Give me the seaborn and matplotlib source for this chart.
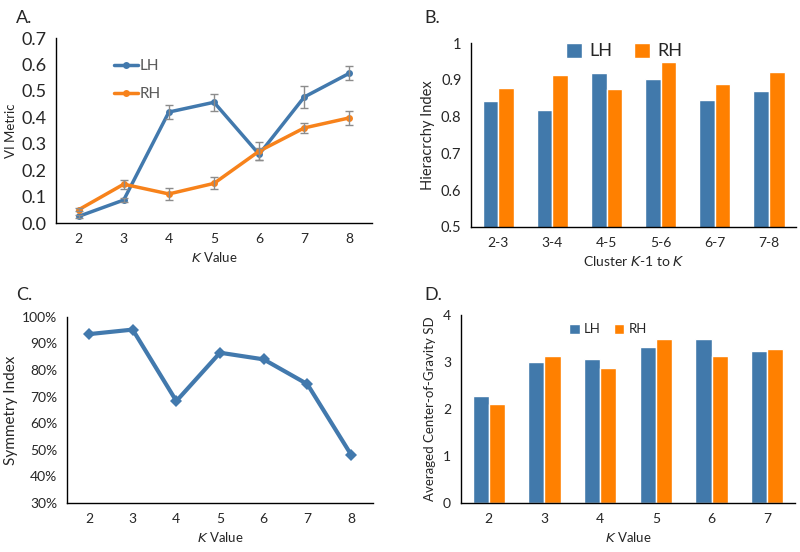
import numpy as np
import pandas as pd
import matplotlib
matplotlib.use("Agg")
import matplotlib.pyplot as plt
import seaborn as sns
from matplotlib.ticker import PercentFormatter

# ---- data ----
k_values = ["2", "3", "4", "5", "6", "7", "8"]
vi_lh = [0.025, 0.087, 0.420, 0.457, 0.260, 0.477, 0.567]
vi_lh_err = [0.006, 0.008, 0.028, 0.032, 0.023, 0.042, 0.027]
vi_rh = [0.050, 0.147, 0.110, 0.150, 0.272, 0.360, 0.398]
vi_rh_err = [0.005, 0.017, 0.023, 0.023, 0.035, 0.018, 0.026]

pairs = ["2-3", "3-4", "4-5", "5-6", "6-7", "7-8"]
hier_lh = [0.842, 0.817, 0.918, 0.901, 0.845, 0.870]
hier_rh = [0.879, 0.914, 0.874, 0.949, 0.888, 0.921]

sym_index = [93.5, 95.2, 68.3, 86.5, 84.0, 74.7, 48.2]

cog_k = ["2", "3", "4", "5", "6", "7"]
cog_lh = [2.28, 3.01, 3.06, 3.33, 3.49, 3.23]
cog_rh = [2.10, 3.13, 2.87, 3.50, 3.12, 3.28]

blue = "#4279AD"
orange = "#F7821B"
bar_blue = "#4179AB"
bar_orange = "#FF8000"
txt = "#262626"

sns.set_style("white")
plt.rcParams["font.family"] = ["Lato", "DejaVu Sans"]
plt.rcParams["text.color"] = txt
plt.rcParams["axes.labelcolor"] = txt
plt.rcParams["xtick.color"] = txt
plt.rcParams["ytick.color"] = txt

fig = plt.figure(figsize=(8, 5.52), dpi=100)
axA = fig.add_axes([0.070, 0.596, 0.395, 0.335])
axB = fig.add_axes([0.589, 0.589, 0.406, 0.333])
axC = fig.add_axes([0.084, 0.089, 0.382, 0.337])
axD = fig.add_axes([0.576, 0.089, 0.418, 0.340])


def style_axes(ax, n, xsize, ysize):
    sns.despine(ax=ax)
    for s in ["left", "bottom"]:
        ax.spines[s].set_color("#000000")
        ax.spines[s].set_linewidth(1.0)
    ax.set_xlim(-0.5, n - 0.5)
    ax.set_xticks(np.arange(-0.5, n), minor=True)
    ax.tick_params(axis="x", which="major", length=0, labelsize=xsize, pad=7)
    ax.tick_params(axis="x", which="minor", length=5, width=1, direction="out", color="#000000")
    ax.tick_params(axis="y", length=5, width=1, direction="out", color="#000000", labelsize=ysize, pad=2)
    ax.grid(False)


# ---- A: VI metric ----
vi_df = pd.DataFrame({
    "K": k_values * 2,
    "VI": vi_lh + vi_rh,
    "hemi": ["LH"] * 7 + ["RH"] * 7,
})
sns.lineplot(data=vi_df, x="K", y="VI", hue="hemi", palette=[blue, orange],
             marker="o", markersize=5, markeredgewidth=0, linewidth=2.5,
             sort=False, ax=axA, zorder=3)
axA.errorbar(k_values, vi_lh, yerr=vi_lh_err, fmt="none", ecolor="#8c8c8c",
             elinewidth=1, capsize=3, zorder=4)
axA.errorbar(k_values, vi_rh, yerr=vi_rh_err, fmt="none", ecolor="#8c8c8c",
             elinewidth=1, capsize=3, zorder=4)
style_axes(axA, len(k_values), 10, 13)
axA.set_ylim(0, 0.7)
axA.set_yticks(np.arange(0, 0.71, 0.1))
axA.yaxis.set_major_formatter(matplotlib.ticker.FormatStrFormatter("%.1f"))
axA.set_ylabel("VI Metric", fontsize=9.5, labelpad=3)
axA.set_xlabel("$\\it{K}$ Value", fontsize=9.5, labelpad=4)
legA = axA.legend(loc="upper left", bbox_to_anchor=(0.14, 0.96), frameon=False,
                  handlelength=1.6, handletextpad=0.1, labelspacing=0.9, fontsize=11)
for t in legA.get_texts():
    t.set_color("#595959")
fig.text(0.02, 0.968, "A.", fontsize=13, va="center")

# ---- B: Hierarchy index ----
hier_df = pd.DataFrame({
    "pair": pairs * 2,
    "value": hier_lh + hier_rh,
    "hemi": ["LH"] * 6 + ["RH"] * 6,
})
sns.barplot(data=hier_df, x="pair", y="value", hue="hemi",
            palette=[bar_blue, bar_orange], width=0.58, gap=0,
            saturation=1, ax=axB)
style_axes(axB, len(pairs), 10, 10.5)
axB.set_ylim(0.5, 1.0)
axB.set_yticks(np.arange(0.5, 1.01, 0.1))
axB.set_yticklabels(["0.5", "0.6", "0.7", "0.8", "0.9", "1"])
axB.set_ylabel("Hieracrchy Index", fontsize=10.5, labelpad=4)
axB.set_xlabel("Cluster $\\it{K}$-1 to $\\it{K}$", fontsize=10, labelpad=4)
axB.legend(loc="upper center", bbox_to_anchor=(0.47, 1.09), ncol=2, frameon=False,
           fontsize=13, handlelength=0.9, handleheight=0.9, handletextpad=0.4,
           columnspacing=1.2)
fig.text(0.53, 0.968, "B.", fontsize=13, va="center")

# ---- C: Symmetry index ----
sym_df = pd.DataFrame({"K": k_values, "sym": sym_index})
sns.lineplot(data=sym_df, x="K", y="sym", color=blue, marker="D", markersize=6,
             markeredgewidth=0, linewidth=3, sort=False, ax=axC)
style_axes(axC, len(k_values), 10, 10)
axC.set_ylim(30, 100)
axC.set_yticks(np.arange(30, 101, 10))
axC.yaxis.set_major_formatter(PercentFormatter(decimals=0))
axC.set_ylabel("Symmetry Index", fontsize=11, labelpad=3)
axC.set_xlabel("$\\it{K}$ Value", fontsize=9.5, labelpad=4)
fig.text(0.02, 0.465, "C.", fontsize=13, va="center")

# ---- D: Center-of-gravity SD ----
cog_df = pd.DataFrame({
    "K": cog_k * 2,
    "value": cog_lh + cog_rh,
    "hemi": ["LH"] * 6 + ["RH"] * 6,
})
sns.barplot(data=cog_df, x="K", y="value", hue="hemi",
            palette=[bar_blue, bar_orange], width=0.58, gap=0,
            saturation=1, ax=axD)
style_axes(axD, len(cog_k), 10, 10)
axD.set_ylim(0, 4)
axD.set_yticks(np.arange(0, 5, 1))
axD.set_ylabel("Averaged Center-of-Gravity SD", fontsize=9.5, labelpad=5)
axD.set_xlabel("$\\it{K}$ Value", fontsize=9.5, labelpad=4)
axD.legend(loc="upper center", bbox_to_anchor=(0.44, 1.02), ncol=2, frameon=False,
           fontsize=9.5, handlelength=0.8, handleheight=0.8, handletextpad=0.3,
           columnspacing=1.0)
fig.text(0.53, 0.465, "D.", fontsize=13, va="center")

fig.savefig("out.png", dpi=100)
